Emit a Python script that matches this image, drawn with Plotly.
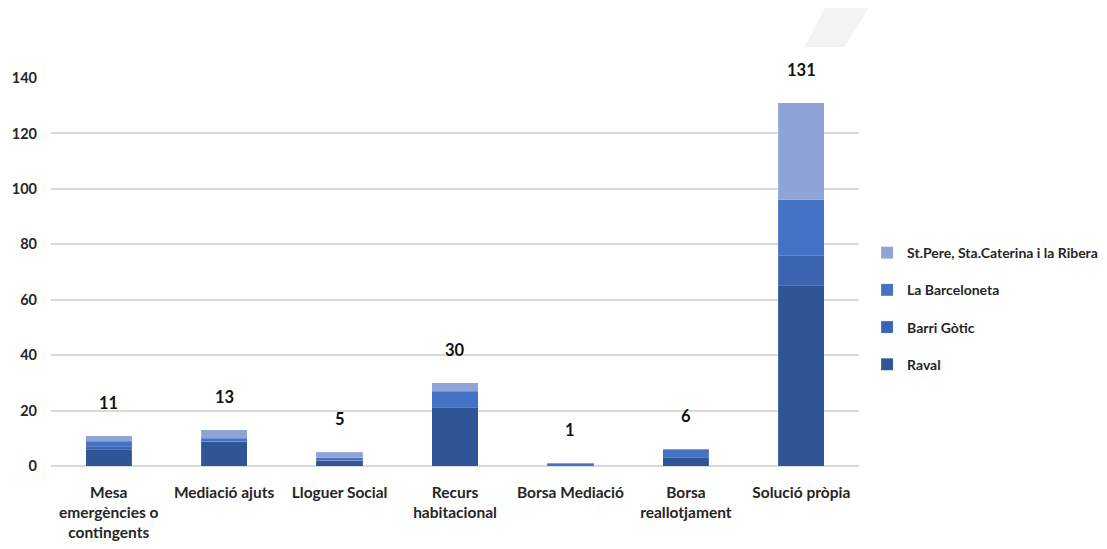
import plotly.graph_objects as go

categories = ["Mesa<br>emergències o<br>contingents", "Mediació ajuts", "Lloguer Social",
              "Recurs<br>habitacional", "Borsa Mediació", "Borsa<br>reallotjament", "Solució pròpia"]
raval = [6, 9, 2, 21, 0, 3, 65]
barri_gotic = [1, 0, 0, 0, 0, 0, 11]
barceloneta = [2, 1, 1, 6, 1, 3, 20]
st_pere = [2, 3, 2, 3, 0, 0, 35]
totals = [11, 13, 5, 30, 1, 6, 131]

series = [
    ("Raval", raval, "#2F5597"),
    ("Barri Gòtic", barri_gotic, "#3A64B0"),
    ("La Barceloneta", barceloneta, "#4472C4"),
    ("St.Pere, Sta.Caterina i la Ribera", st_pere, "#8FA4D6"),
]

fig = go.Figure()
for i, (name, vals, col) in enumerate(series):
    fig.add_trace(go.Bar(x=categories, y=vals, name=name, marker_color=col,
                         marker_line=dict(color="rgba(255,255,255,0.25)", width=0.5),
                         legendgroup=f"g{i}", legendrank=10 - i))

for c, t in zip(categories, totals):
    fig.add_annotation(x=c, y=t, text=str(t), showarrow=False, yanchor="bottom",
                       yshift=21, font=dict(size=16.5, color="#111111", family="Lato", weight="bold"))

# faint decorative parallelogram at top
fig.add_shape(type="path", xref="paper", yref="paper",
              path="M 0.958 1.183 L 1.013 1.183 L 0.982 1.080 L 0.933 1.080 Z",
              fillcolor="#f3f3f3", line=dict(width=0), layer="below")

fig.update_layout(
    barmode="stack",
    bargap=0.6,
    width=1107, height=549,
    margin=dict(l=43, r=254, t=70, b=91),
    plot_bgcolor="white", paper_bgcolor="white",
    font=dict(family="Lato", color="#262626"),
    showlegend=True,
    legend=dict(x=1.010, y=0.59, xanchor="left", yanchor="top",
                traceorder="grouped", tracegroupgap=16,
                font=dict(size=14, family="Lato", color="#262626", weight="bold"),
                itemwidth=30),
    yaxis=dict(range=[0, 140], dtick=20, showgrid=True, gridcolor="#d9d9d9", gridwidth=2,
               zeroline=True, zerolinecolor="#d9d9d9", zerolinewidth=2, automargin=False,
               tickfont=dict(size=14.5, family="Lato", color="#262626", weight="bold"),
               ticks="", showline=False, ticklabelstandoff=13),
    xaxis=dict(tickfont=dict(size=15.5, family="Lato", color="#262626", weight="bold"),
               ticks="", showline=False, tickangle=0, automargin=False,
               ticklabelstandoff=15),
)

fig.write_html("out.html")
